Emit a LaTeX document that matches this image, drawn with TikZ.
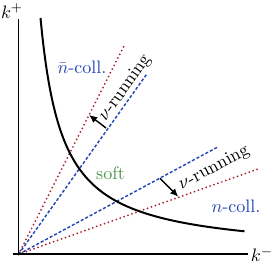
\documentclass[tikz,border=0pt]{standalone}
\usetikzlibrary{arrows.meta}
\definecolor{myblue}{RGB}{35,70,180}
\definecolor{myred}{RGB}{170,30,40}
\definecolor{mygreen}{RGB}{80,150,80}
\tikzset{
  axisline/.style={line width=1.1pt},
  curveline/.style={line width=1.1pt},
  redline/.style={myred, line width=1.1pt, line cap=round, dash pattern=on 0pt off 2.3pt},
  blueline/.style={myblue, line width=0.8pt, dash pattern=on 1.7pt off 1.1pt},
  runarrow/.style={line width=0.8pt, -{Latex[length=4.5pt,width=4pt]}},
  lbl/.style={inner sep=0pt},
}
\begin{document}
\begin{tikzpicture}[x={(0.554pt,0)}, y={(0,-0.554pt)}]
\useasboundingbox (0,0) rectangle (273,264);
\coordinate (O) at (18.5,254.3);
\coordinate (ytop) at (18.5,19.5);
\coordinate (ybot) at (18.5,255.5);
\coordinate (xleft) at (13,254.3);
\coordinate (xright) at (248,254.3);
\coordinate (R1) at (125,44);
\coordinate (B1) at (147.3,73.3);
\coordinate (B2) at (218.3,146.7);
\coordinate (R2) at (260,168.3);
\coordinate (A1s) at (106,128);
\coordinate (A1e) at (89,115);
\coordinate (A2s) at (160,178.3);
\coordinate (A2e) at (178.3,196.7);
% lines
\draw[redline] (O) -- (R1);
\draw[blueline] (O) -- (B1);
\draw[blueline] (O) -- (B2);
\draw[redline] (O) -- (R2);
% axes
\draw[axisline] (ybot) -- (ytop);
\draw[axisline] (xleft) -- (xright);
% hyperbola
\draw[curveline] plot[domain=22:226, samples=120] ({18.5+\x},{254.3-5200/\x});
% arrows
\draw[runarrow] (A1s) -- (A1e);
\draw[runarrow] (A2s) -- (A2e);
% labels
\node[lbl] (kp) at (12,11) {$k^+$};
\node[lbl] (km) at (262,254.5) {$k^-$};
\node[lbl, text=myblue] (nbar) at (82,67) {$\bar n$-coll.};
\node[lbl, text=myblue] (ncoll) at (236,206) {$n$-coll.};
\node[lbl, text=mygreen] (soft) at (110.5,173) {soft};
\node[lbl, rotate=54.6] (run1) at (125,88) {$\nu$-running};
\node[lbl, rotate=28] (run2) at (214,168) {$\nu$-running};
\end{tikzpicture}
\end{document}
